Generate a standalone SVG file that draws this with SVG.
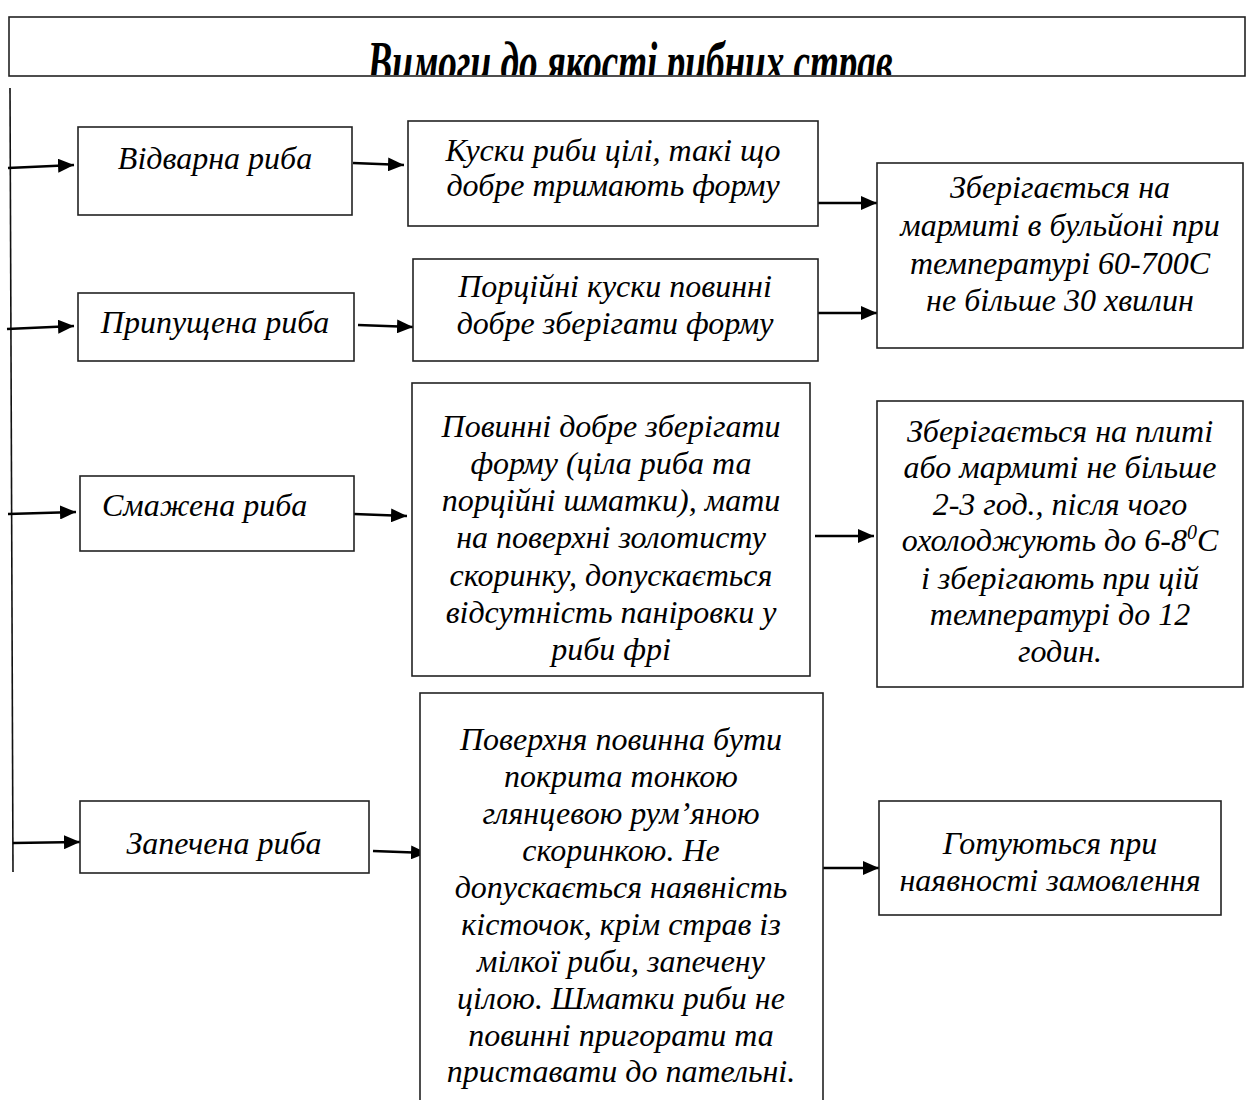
<svg xmlns="http://www.w3.org/2000/svg" width="1249" height="1100" viewBox="0 0 1249 1100">
<style>
.box{fill:#fff;stroke:#222;stroke-width:1.6}
.t{font-family:"Liberation Serif","Times New Roman",serif;font-style:italic;font-size:32px;fill:#000;text-anchor:middle}
.title{font-family:"Liberation Serif","Times New Roman",serif;font-style:italic;font-weight:bold;font-size:56px;fill:#000;text-anchor:middle}
.c{stroke:#000;stroke-width:2.6;fill:none;marker-end:url(#ah)}
.v{stroke:#111;stroke-width:1.6;fill:none}
</style>
<defs>
<marker id="ah" viewBox="0 0 16 14" refX="16" refY="7" markerWidth="16" markerHeight="14" markerUnits="userSpaceOnUse" orient="auto">
<path d="M0,0 L16,7 L0,14 z" fill="#000"/>
</marker>
<clipPath id="tc"><rect x="10" y="18" width="1235" height="57"/></clipPath>
</defs>
<rect width="1249" height="1100" fill="#fff"/>
<g id="title">
<rect class="box" x="9" y="17" width="1236" height="59"/>
<text class="title" x="630" y="81" textLength="525" lengthAdjust="spacingAndGlyphs" clip-path="url(#tc)">Вимоги до якості рибних страв</text>
</g>
<g id="connectors">
<line class="v" x1="10" y1="88" x2="13" y2="872"/>
<line class="c" x1="8" y1="168" x2="74" y2="165"/>
<line class="c" x1="353" y1="163" x2="404" y2="165"/>
<line class="c" x1="818" y1="203" x2="877" y2="203"/>
<line class="c" x1="7" y1="329" x2="74" y2="326"/>
<line class="c" x1="358" y1="325" x2="413" y2="327"/>
<line class="c" x1="818" y1="313" x2="877" y2="313"/>
<line class="c" x1="8" y1="514" x2="76" y2="512"/>
<line class="c" x1="354" y1="514" x2="407" y2="516"/>
<line class="c" x1="815" y1="536" x2="874" y2="536"/>
<line class="c" x1="13" y1="843" x2="80" y2="842"/>
<line class="c" x1="373" y1="851" x2="427" y2="853"/>
<line class="c" x1="820" y1="868" x2="879" y2="868"/>
</g>
<g id="n1">
<rect class="box" x="78" y="127" width="274" height="88"/>
<text class="t" x="215" y="169">Відварна риба</text>
</g>
<g id="n2">
<rect class="box" x="408" y="121" width="410" height="105"/>
<text class="t" x="613" y="161">Куски риби цілі, такі що</text>
<text class="t" x="613" y="196">добре тримають форму</text>
</g>
<g id="n3">
<rect class="box" x="877" y="163" width="366" height="185"/>
<text class="t" x="1060" y="198">Зберігається на</text>
<text class="t" x="1060" y="236">мармиті в бульйоні при</text>
<text class="t" x="1060" y="274">температурі 60-700С</text>
<text class="t" x="1060" y="311">не більше 30 хвилин</text>
</g>
<g id="n4">
<rect class="box" x="78" y="293" width="276" height="68"/>
<text class="t" x="215" y="333">Припущена риба</text>
</g>
<g id="n5">
<rect class="box" x="413" y="259" width="405" height="102"/>
<text class="t" x="615" y="297">Порційні куски повинні</text>
<text class="t" x="615" y="334">добре зберігати форму</text>
</g>
<g id="n6">
<rect class="box" x="80" y="476" width="274" height="75"/>
<text class="t" x="102" y="516" style="text-anchor:start">Смажена риба</text>
</g>
<g id="n7">
<rect class="box" x="412" y="383" width="398" height="293"/>
<text class="t" x="611" y="437">Повинні добре зберігати</text>
<text class="t" x="611" y="474">форму (ціла риба та</text>
<text class="t" x="611" y="511">порційні шматки), мати</text>
<text class="t" x="611" y="548">на поверхні золотисту</text>
<text class="t" x="611" y="586">скоринку, допускається</text>
<text class="t" x="611" y="623">відсутність паніровки у</text>
<text class="t" x="611" y="660">риби фрі</text>
</g>
<g id="n8">
<rect class="box" x="877" y="401" width="366" height="286"/>
<text class="t" x="1060" y="442">Зберігається на плиті</text>
<text class="t" x="1060" y="478">або мармиті не більше</text>
<text class="t" x="1060" y="515">2-3 год., після чого</text>
<text class="t" x="1060" y="551">охолоджують до 6-8<tspan dy="-12" font-size="20">0</tspan><tspan dy="12">С</tspan></text>
<text class="t" x="1060" y="589">і зберігають при цій</text>
<text class="t" x="1060" y="625">температурі до 12</text>
<text class="t" x="1060" y="662">годин.</text>
</g>
<g id="n9">
<rect class="box" x="80" y="801" width="289" height="72"/>
<text class="t" x="224" y="854">Запечена риба</text>
</g>
<g id="n10">
<rect class="box" x="420" y="693" width="403" height="420"/>
<text class="t" x="621" y="750">Поверхня повинна бути</text>
<text class="t" x="621" y="787">покрита тонкою</text>
<text class="t" x="621" y="824">глянцевою рум’яною</text>
<text class="t" x="621" y="861">скоринкою. Не</text>
<text class="t" x="621" y="898">допускається наявність</text>
<text class="t" x="621" y="935">кісточок, крім страв із</text>
<text class="t" x="621" y="972">мілкої риби, запечену</text>
<text class="t" x="621" y="1009">цілою. Шматки риби не</text>
<text class="t" x="621" y="1046">повинні пригорати та</text>
<text class="t" x="621" y="1082">приставати до пательні.</text>
</g>
<g id="n11">
<rect class="box" x="879" y="801" width="342" height="114"/>
<text class="t" x="1050" y="854">Готуються при</text>
<text class="t" x="1050" y="891">наявності замовлення</text>
</g>
</svg>
